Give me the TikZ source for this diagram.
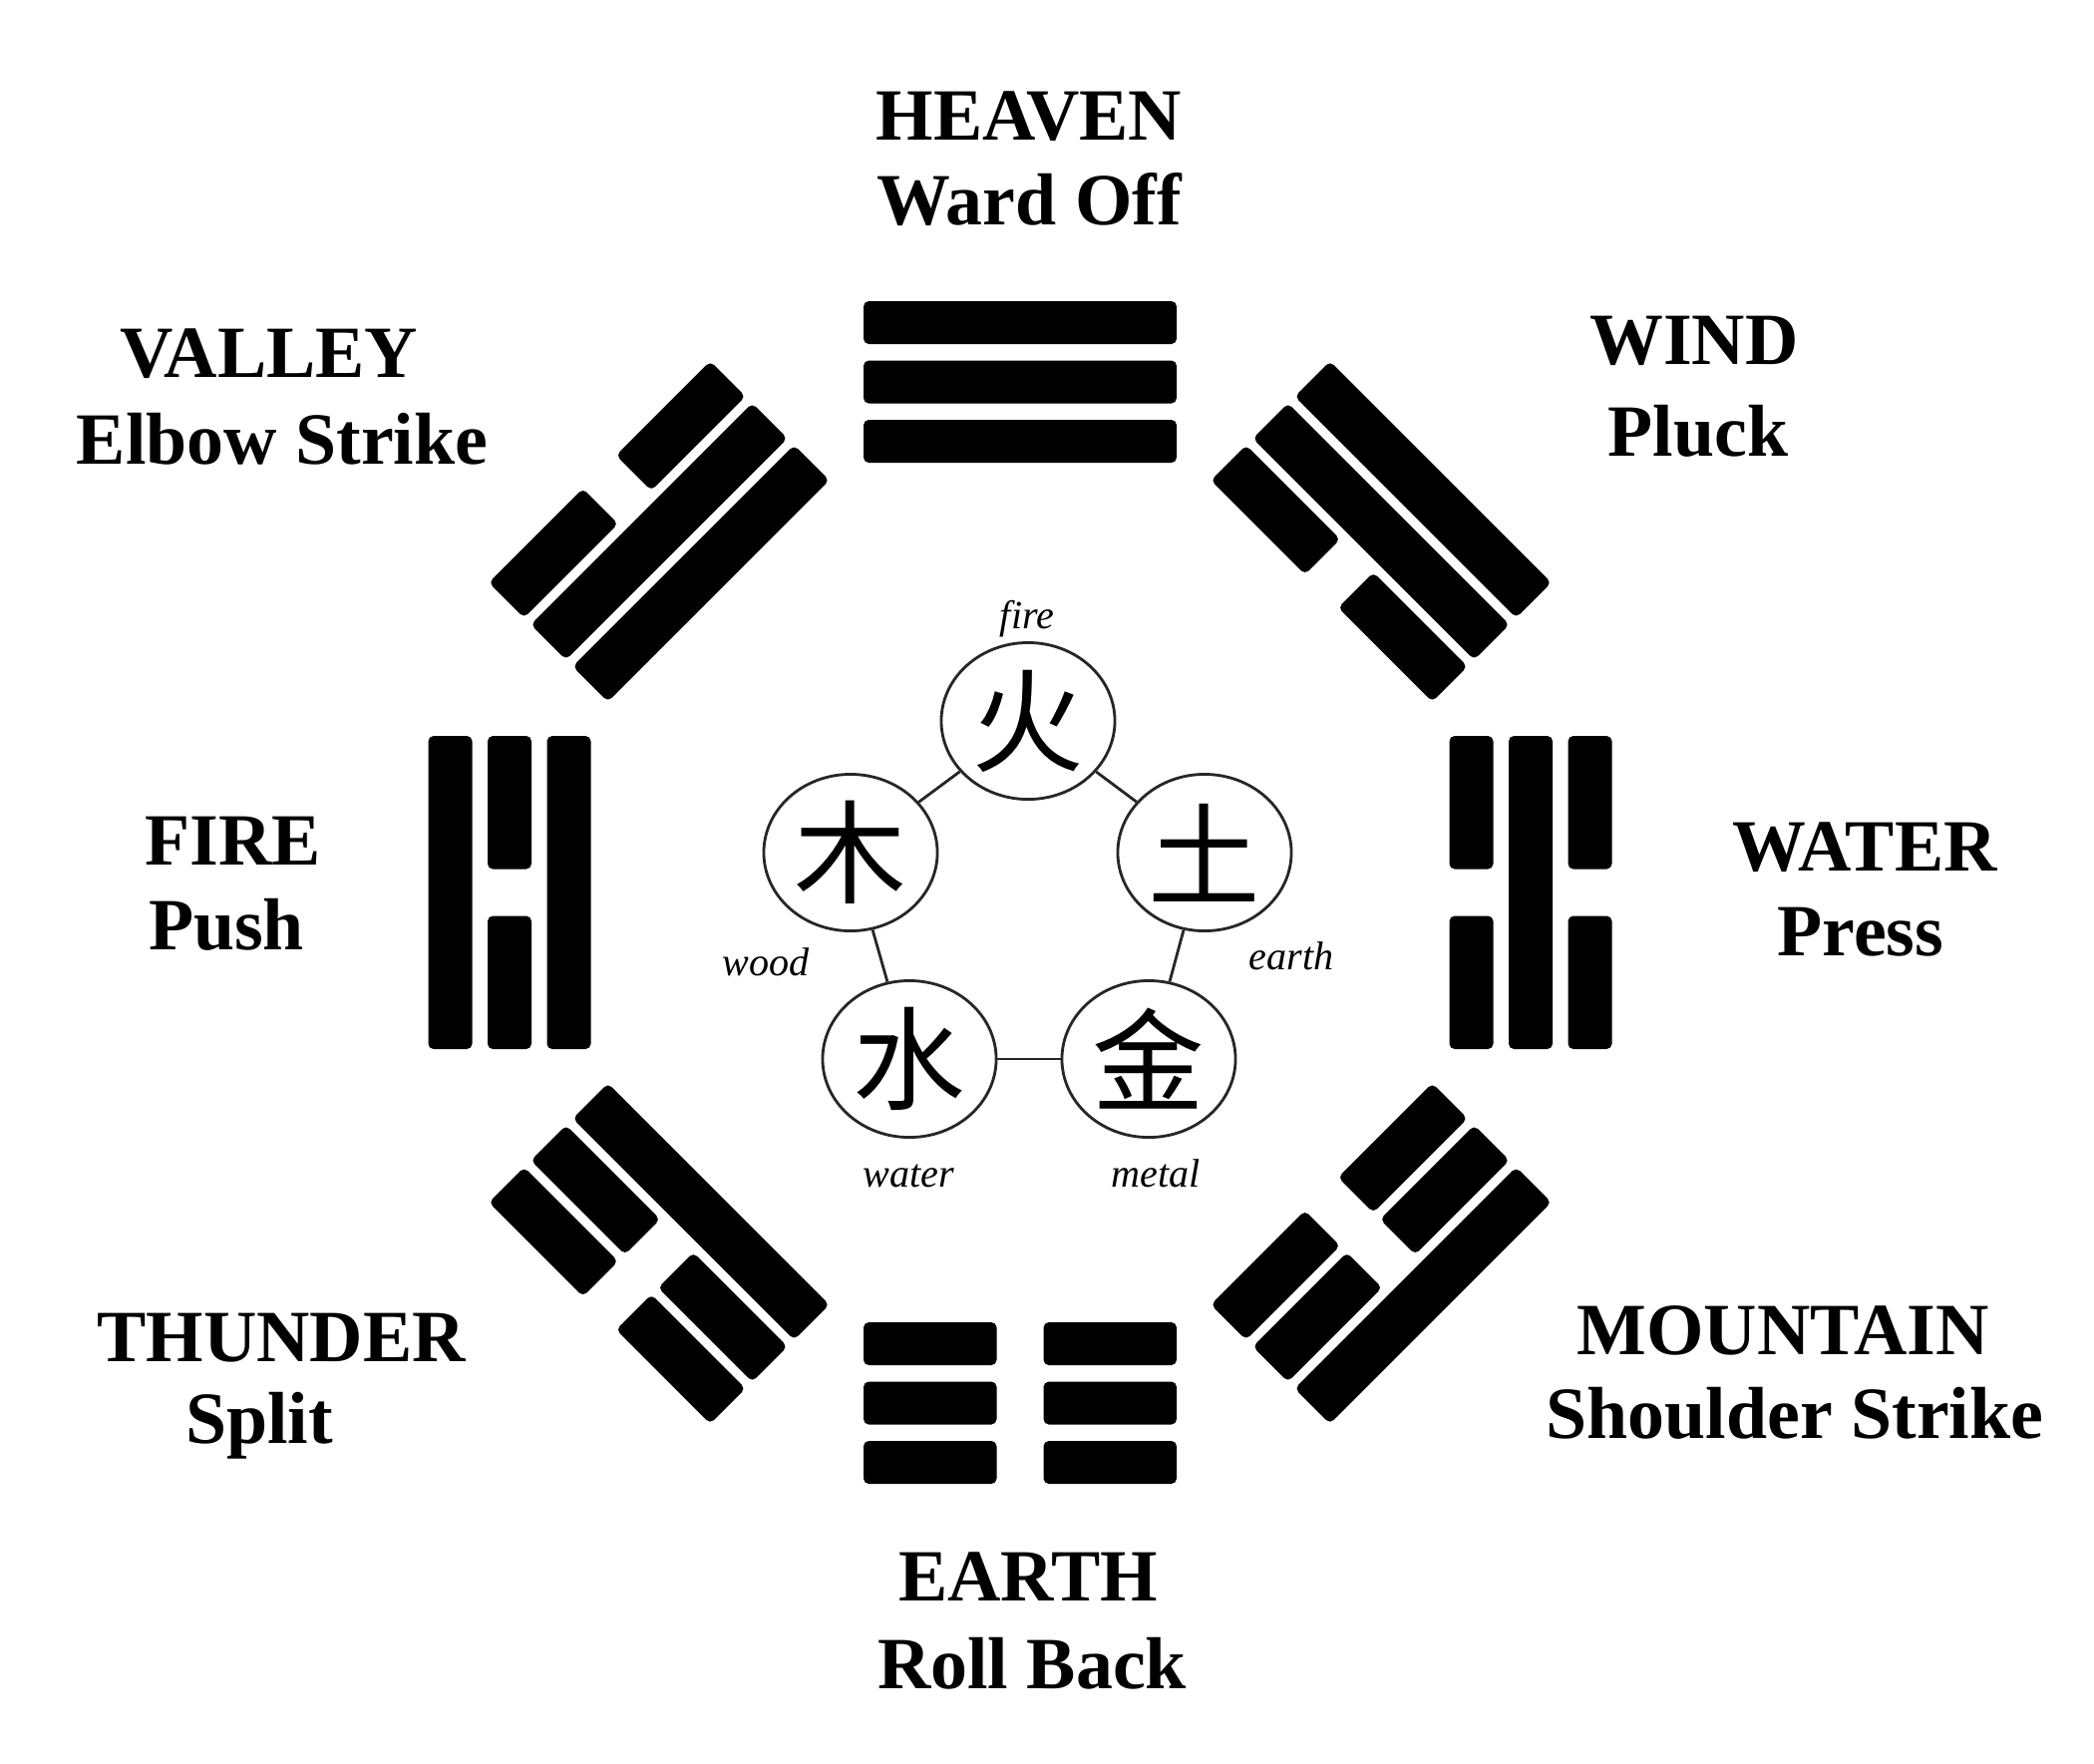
\documentclass[tikz,border=0pt]{standalone}
\usepackage{fontspec}
\setmainfont{Liberation Serif}
\newfontfamily\hanzi{Noto Sans CJK SC}
\usetikzlibrary{shapes.geometric}

\begin{document}
\begin{tikzpicture}[x=0.01cm, y=-0.01cm,
  yao/.style={fill=black, rounded corners=1.5pt},
  gua/.style={font=\fontsize{21}{25}\selectfont\bfseries, inner sep=0pt, anchor=base},
  element/.style={draw=black!85, line width=0.8pt, ellipse, fill=white, inner sep=0pt,
    minimum width=1.74cm, minimum height=1.57cm, font=\hanzi\fontsize{32}{32}\selectfont},
  elname/.style={font=\fontsize{11.4}{12}\selectfont\itshape, inner sep=0pt, anchor=base}]

\useasboundingbox (0,0) rectangle (2100,1768);

% trigrams: angle / bottom / middle / top (1 = whole line, 0 = broken) / half thickness
\foreach \ang/\lo/\md/\hi/\th in {90/1/1/1/21.5, 45/0/1/1/25, 0/0/1/0/22, -45/0/0/1/25,
                                  -90/0/0/0/21.5, -135/1/0/0/25, 180/1/0/1/22, 135/1/1/0/25}{
  \begin{scope}[shift={(1023,895)}, rotate=\ang-90]
    \foreach \v [count=\k] in {\lo,\md,\hi}{
      \pgfmathsetmacro{\rad}{-(512+(\k-2)*59.5)}
      \ifnum\v=1
        \fill[yao] (-157,\rad-\th) rectangle (157,\rad+\th);
      \else
        \fill[yao] (-157,\rad-\th) rectangle (-23.5,\rad+\th)
                   (23.5,\rad-\th) rectangle (157,\rad+\th);
      \fi
    }
  \end{scope}
}

\node[gua] (heaven)   at (1032,140)  {HEAVEN};
\node[gua] (wardoff)  at (1032,225)  {Ward Off};
\node[gua] (wind)     at (1699,365)  {WIND};
\node[gua] (pluck)    at (1703,457)  {Pluck};
\node[gua] (water)    at (1870,873)  {WATER};
\node[gua] (press)    at (1866,958)  {Press};
\node[gua] (mountain) at (1788,1358) {MOUNTAIN};
\node[gua] (shoulder) at (1800,1442) {Shoulder Strike};
\node[gua] (earth)    at (1031,1605) {EARTH};
\node[gua] (rollback) at (1035,1693) {Roll Back};
\node[gua] (thunder)  at (282,1365)  {THUNDER};
\node[gua] (split)    at (260,1447)  {Split};
\node[gua] (fire)     at (234,867)   {FIRE};
\node[gua] (push)     at (227,952)   {Push};
\node[gua] (valley)   at (270,378)   {VALLEY};
\node[gua] (elbow)    at (283,465)   {Elbow Strike};

% five elements
\node[element] (huo)   at (1031,723)  {火};
\node[element] (tu)    at (1208,855)  {土};
\node[element] (jin)   at (1152,1062) {金};
\node[element] (shui)  at (912,1062)  {水};
\node[element] (mu)    at (853,855)   {木};

\draw[draw=black!85, line width=0.8pt] (huo) -- (tu);
\draw[draw=black!85, line width=0.8pt] (tu) -- (jin);
\draw[draw=black!85, line width=0.8pt] (jin) -- (shui);
\draw[draw=black!85, line width=0.8pt] (shui) -- (mu);
\draw[draw=black!85, line width=0.8pt] (mu) -- (huo);

\node[elname] (huoname)  at (1030,630)  {fire};
\node[elname] (tuname)   at (1295,972)  {earth};
\node[elname] (jinname)  at (1159,1190) {metal};
\node[elname] (shuiname) at (911,1190)  {water};
\node[elname] (muname)   at (768,978)   {wood};

\end{tikzpicture}
\end{document}
